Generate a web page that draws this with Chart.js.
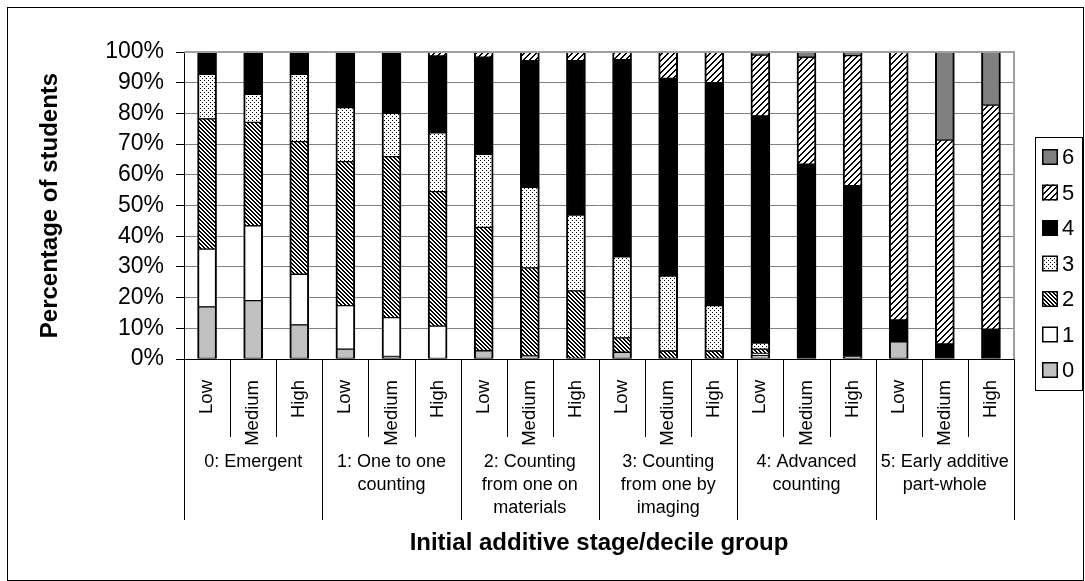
<!DOCTYPE html>
<html>
<head>
<meta charset="utf-8">
<script src="https://cdn.jsdelivr.net/npm/chart.js@4/dist/chart.umd.min.js"></script>
<style>
  html, body { margin: 0; padding: 0; background: #ffffff; }
  canvas { display: block; }
</style>
</head>
<body>
<canvas id="chart" width="1085" height="581"></canvas>
<script>
// Stage groups (multi-line captions) and decile groups within each stage
const groups = [
  ['0: Emergent'],
  ['1: One to one', 'counting'],
  ['2: Counting', 'from one on', 'materials'],
  ['3: Counting', 'from one by', 'imaging'],
  ['4: Advanced', 'counting'],
  ['5: Early additive', 'part-whole']
];
const deciles = ['Low', 'Medium', 'High'];
const stageNames = ['0', '1', '2', '3', '4', '5', '6'];

// Percentage of students reaching each final stage, per stage/decile bar
const stage0 = [17.0, 19.0, 11.1, 3.2, 0.8, 0, 2.7, 0, 0, 2.2, 0, 0, 1.2, 0, 0, 5.6, 0, 0];
const stage1 = [18.8, 24.4, 16.5, 14.2, 12.7, 10.7, 0, 1.0, 0, 0, 0, 0, 0.6, 0, 0.8, 0, 0, 0];
const stage2 = [42.4, 33.7, 43.2, 46.9, 52.4, 43.8, 40.2, 28.7, 22.2, 4.7, 2.6, 2.6, 1.4, 0, 0, 0, 0, 0];
const stage3 = [14.5, 9.1, 21.9, 17.6, 14.1, 19.2, 23.8, 26.2, 24.7, 26.4, 24.4, 14.8, 2.0, 0, 0, 0, 0, 0];
const stage4 = [7.3, 13.8, 7.3, 18.1, 20.0, 25.0, 31.6, 41.3, 50.3, 64.2, 64.4, 72.6, 74.0, 63.5, 55.7, 7.1, 4.9, 9.7];
const stage5 = [0, 0, 0, 0, 0, 1.3, 1.7, 2.8, 2.8, 2.5, 8.6, 10.0, 19.8, 34.8, 42.3, 87.3, 66.4, 73.0];
const stage6 = [0, 0, 0, 0, 0, 0, 0, 0, 0, 0, 0, 0, 1.0, 1.7, 1.2, 0, 28.7, 17.3];

const yTicks = [0, 10, 20, 30, 40, 50, 60, 70, 80, 90, 100];

const FONT = "'Liberation Sans', Arial, Helvetica, sans-serif";

// Monochrome fill patterns
function makePattern(kind) {
  const size = kind === 'forward' ? 6 : 4;
  const c = document.createElement('canvas');
  c.width = size; c.height = size;
  const g = c.getContext('2d');
  g.fillStyle = '#ffffff';
  g.fillRect(0, 0, size, size);
  g.fillStyle = '#000000';
  for (let y = 0; y < size; y++) {
    for (let x = 0; x < size; x++) {
      let on = false;
      if (kind === 'back') on = ((x - y + 8) % 4) < 2;          // dense "\" stripes
      if (kind === 'forward') on = ((x + y) % 6) < 2;           // wide "/" stripes
      if (kind === 'dots') on = (x === 0 && y === 0) || (x === 2 && y === 2);
      if (on) g.fillRect(x, y, 1, 1);
    }
  }
  return g.createPattern(c, 'repeat');
}

const fills = [
  '#c0c0c0',
  '#ffffff',
  makePattern('back'),
  makePattern('dots'),
  '#000000',
  makePattern('forward'),
  '#808080'
];

const categoryLabels = [];
groups.forEach(() => deciles.forEach(d => categoryLabels.push(d)));

const seriesValues = [stage0, stage1, stage2, stage3, stage4, stage5, stage6];
const datasets = seriesValues.map((vals, i) => ({
  label: stageNames[i],
  data: vals,
  backgroundColor: fills[i],
  borderColor: '#000000',
  borderWidth: { top: 1, bottom: 1, left: 2, right: 2 },
  borderSkipped: false,
  barThickness: 19
}));

// Category table under the axis, plot frame, legend box and outer frame
const decorations = {
  id: 'decorations',
  beforeDraw(chart) {
    const ctx = chart.ctx;
    ctx.save();
    ctx.fillStyle = '#ffffff';
    ctx.fillRect(0, 0, chart.width, chart.height);
    ctx.restore();
  },
  afterDraw(chart) {
    const ctx = chart.ctx;
    const area = chart.chartArea;
    const xs = chart.scales.x;
    const n = categoryLabels.length;
    ctx.save();

    // plot frame (top and right)
    ctx.strokeStyle = '#a0a0a0';
    ctx.lineWidth = 2;
    ctx.beginPath();
    ctx.moveTo(area.left, area.top);
    ctx.lineTo(area.right, area.top);
    ctx.lineTo(area.right, area.bottom);
    ctx.stroke();

    // separators of the category table
    ctx.strokeStyle = '#000000';
    ctx.lineWidth = 1;
    ctx.beginPath();
    for (let i = 0; i <= n; i++) {
      let x;
      if (i === 0) x = area.left;
      else if (i === n) x = area.right;
      else x = (xs.getPixelForValue(i - 1) + xs.getPixelForValue(i)) / 2;
      x = Math.round(x) + 0.5;
      const len = (i % deciles.length === 0) ? 161 : 78;
      ctx.moveTo(x, xs.top);
      ctx.lineTo(x, xs.top + len);
    }
    ctx.stroke();

    // stage captions
    ctx.fillStyle = '#000000';
    ctx.font = '18px ' + FONT;
    ctx.textAlign = 'center';
    ctx.textBaseline = 'middle';
    groups.forEach((lines, gi) => {
      const cx = xs.getPixelForValue(gi * deciles.length + 1);
      lines.forEach((t, li) => ctx.fillText(t, cx, xs.top + 103 + li * 23));
    });

    // legend
    const lx = 1035.5, ly = 137.5, lw = 47, lh = 253;
    ctx.strokeStyle = '#000000';
    ctx.lineWidth = 1;
    ctx.strokeRect(lx, ly, lw, lh);
    ctx.font = '22px ' + FONT;
    ctx.textAlign = 'left';
    ctx.textBaseline = 'middle';
    const order = datasets.map((d, i) => i).reverse();
    order.forEach((di, k) => {
      const cy = 157 + k * 35.5;
      ctx.fillStyle = datasets[di].backgroundColor;
      ctx.fillRect(1042, cy - 8, 16, 16);
      ctx.lineWidth = 1.5;
      ctx.strokeRect(1042.75, cy - 7.25, 14.5, 14.5);
      ctx.fillStyle = '#000000';
      ctx.fillText(datasets[di].label, 1062, cy + 1);
    });

    // outer frame
    ctx.lineWidth = 1;
    ctx.strokeStyle = '#000000';
    ctx.strokeRect(7.5, 7.5, 1076, 573);
    ctx.restore();
  }
};

new Chart(document.getElementById('chart'), {
  type: 'bar',
  data: { labels: categoryLabels, datasets: datasets },
  plugins: [decorations],
  options: {
    responsive: false,
    animation: false,
    devicePixelRatio: 1,
    layout: { padding: { left: 0, right: 71, top: 52, bottom: 0 } },
    plugins: {
      legend: { display: false },
      tooltip: { enabled: false }
    },
    scales: {
      x: {
        stacked: true,
        grid: { display: false },
        border: { display: true, color: '#000000', width: 1 },
        ticks: {
          autoSkip: false,
          minRotation: 90,
          maxRotation: 90,
          padding: 13,
          color: '#000000',
          font: { family: FONT, size: 18.5 }
        },
        title: {
          display: true,
          text: 'Initial additive stage/decile group',
          color: '#000000',
          font: { family: FONT, size: 24, weight: 'bold' },
          padding: { top: 0, bottom: 23.6 }
        },
        afterFit(scale) { scale.height = 222; }
      },
      y: {
        stacked: true,
        min: 0,
        max: 100,
        afterBuildTicks(scale) { scale.ticks = yTicks.map(v => ({ value: v })); },
        ticks: {
          callback: v => v + '%',
          padding: 12,
          color: '#000000',
          font: { family: FONT, size: 23 }
        },
        grid: { color: '#808080', tickColor: '#000000', tickLength: 8, lineWidth: 1 },
        border: { color: '#000000', width: 1 },
        title: {
          display: true,
          text: 'Percentage of students',
          color: '#000000',
          font: { family: FONT, size: 24, weight: 'bold' },
          padding: { top: 35.6, bottom: 0 }
        },
        afterFit(scale) { scale.width = 184; }
      }
    }
  }
});
</script>
</body>
</html>
